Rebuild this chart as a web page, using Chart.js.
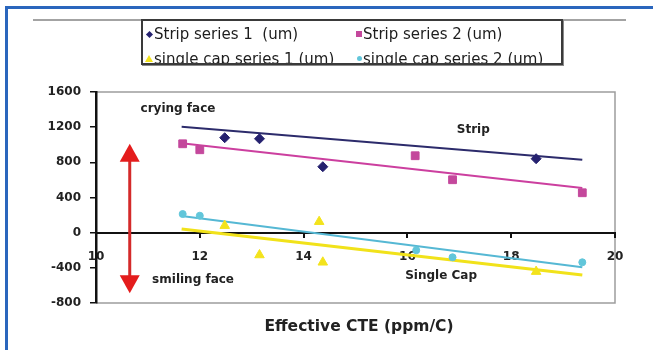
<!DOCTYPE html>
<html>
<head>
<meta charset="utf-8">
<script src="https://cdn.jsdelivr.net/npm/chart.js@4/dist/chart.umd.min.js"></script>
<style>
  html, body { margin: 0; padding: 0; background: #fff; overflow: hidden; }
  #wrap { position: relative; width: 653px; height: 350px; }
  canvas { position: absolute; left: 0; top: 0; }
  #frame { position: absolute; left: 5px; top: 6px; width: 720px; height: 420px;
           border-left: 3px solid #2a66bd; border-top: 3px solid #2a66bd; box-sizing: border-box; }
  #rule { position: absolute; left: 33px; top: 19px; width: 593px; height: 2px; background: #a3a3a3; }
  #legend { position: absolute; left: 141px; top: 19px; width: 422px; height: 46px;
            border: 2px solid #3a3a3a; box-shadow: 1px 1px 0 #8a8a8a; background: #fff;
            box-sizing: border-box; overflow: hidden;
            font-family: "DejaVu Sans", sans-serif; font-size: 15px; color: #1d1d1d; }
  .item { position: absolute; white-space: pre; line-height: 16px; }
  .mk { position: absolute; }
</style>
</head>
<body>
<div id="wrap">
  <canvas id="c" width="653" height="350"></canvas>
  <div id="frame"></div>
  <div id="rule"></div>
  <div id="legend"></div>
</div>
<script>
// Effective CTE (ppm/C) and measured warpage (um) per sample
const seriesLabels = ['Strip series 1  (um)', 'Strip series 2 (um)', 'single cap series 1 (um)', 'single cap series 2 (um)'];
const stripCte1 = [12.48, 13.15, 14.37, 18.48];
const stripWarp1 = [1080, 1068, 750, 841];
const stripCte2 = [11.67, 12.0, 16.15, 16.87, 19.37];
const stripWarp2 = [1011, 943, 875, 602, 454];
const capCte1 = [12.48, 13.15, 14.3, 14.37, 18.48];
const capWarp1 = [80, -254, 125, -337, -443];
const capCte2 = [11.67, 12.0, 16.17, 16.87, 19.37];
const capWarp2 = [212, 193, -200, -280, -337];

// Linear trend lines: warpage at the start and end of the CTE range
const trendCte = [11.65, 19.37];
const stripTrend1 = [1204, 829];
const stripTrend2 = [1018, 508];
const capTrend1 = [42, -481];
const capTrend2 = [190, -394];

// Axis ticks
const xTicks = [10, 12, 14, 16, 18, 20];
const yTicks = [-800, -400, 0, 400, 800, 1200, 1600];

// Crying / smiling face arrow (CTE position, warpage tips)
const arrowCte = 10.65;
const arrowWarp = [1010, -690];

const toPoints = (xs, ys) => xs.map((x, i) => ({ x: x, y: ys[i] }));

const colors = {
  strip1: '#25216f', strip1Line: '#2c2b6b',
  strip2: '#c4489c', strip2Line: '#cc3f9f',
  cap1: '#f3e31c', cap1Line: '#f1e21a',
  cap2: '#62c6da', cap2Line: '#55b8d4'
};

const pointSet = (label, xs, ys, color, style, radius) => ({
  type: 'scatter', label: label, data: toPoints(xs, ys),
  pointStyle: style, pointRadius: radius, pointHoverRadius: radius,
  backgroundColor: color, borderColor: color, borderWidth: 1,
  showLine: false, order: 0, inLegend: true
});
const trendSet = (ys, color, width) => ({
  type: 'line', data: toPoints(trendCte, ys),
  borderColor: color, borderWidth: width, pointRadius: 0,
  fill: false, tension: 0, order: 1, inLegend: false
});

const notes = [
  { text: 'crying face', x: 11.58, y: 1409 },
  { text: 'Strip', x: 17.27, y: 1170 },
  { text: 'smiling face', x: 11.87, y: -534 },
  { text: 'Single Cap', x: 16.65, y: -488 }
];

const notesPlugin = {
  id: 'notes',
  beforeDraw(chart) {
    const { ctx, chartArea: a } = chart;
    ctx.save();
    ctx.strokeStyle = '#9d9d9d';
    ctx.lineWidth = 1.5;
    ctx.beginPath();
    ctx.moveTo(a.left, a.top); ctx.lineTo(a.right, a.top);
    ctx.lineTo(a.right, a.bottom); ctx.lineTo(a.left, a.bottom);
    ctx.stroke();
    ctx.restore();
  },
  afterDraw(chart) {
    const { ctx } = chart;
    const xs = chart.scales.x, ys = chart.scales.y;
    ctx.save();
    // red double-headed arrow
    const ax = xs.getPixelForValue(arrowCte);
    const top = ys.getPixelForValue(arrowWarp[0]);
    const bot = ys.getPixelForValue(arrowWarp[1]);
    const head = 18, half = 10;
    ctx.strokeStyle = '#d42a2a';
    ctx.lineWidth = 3;
    ctx.beginPath();
    ctx.moveTo(ax, top + head - 1); ctx.lineTo(ax, bot - head + 1);
    ctx.stroke();
    ctx.fillStyle = '#e41c1c';
    ctx.beginPath();
    ctx.moveTo(ax, top); ctx.lineTo(ax + half, top + head); ctx.lineTo(ax - half, top + head);
    ctx.closePath(); ctx.fill();
    ctx.beginPath();
    ctx.moveTo(ax, bot); ctx.lineTo(ax + half, bot - head); ctx.lineTo(ax - half, bot - head);
    ctx.closePath(); ctx.fill();
    // annotations
    ctx.fillStyle = '#222';
    ctx.font = 'bold 12px "DejaVu Sans"';
    ctx.textAlign = 'center';
    ctx.textBaseline = 'middle';
    notes.forEach(n => ctx.fillText(n.text, xs.getPixelForValue(n.x), ys.getPixelForValue(n.y)));
    // x axis title
    ctx.font = 'bold 15.5px "DejaVu Sans"';
    ctx.fillText('Effective CTE (ppm/C)', 359, 327);
    ctx.restore();
  }
};

const tickFont = { family: 'DejaVu Sans', size: 12, weight: 'bold' };

const chart = new Chart(document.getElementById('c'), {
  data: {
    datasets: [
      pointSet(seriesLabels[0], stripCte1, stripWarp1, colors.strip1, 'rectRot', 5),
      pointSet(seriesLabels[1], stripCte2, stripWarp2, colors.strip2, 'rect', 5.5),
      pointSet(seriesLabels[2], capCte1, capWarp1, colors.cap1, 'triangle', 5.5),
      pointSet(seriesLabels[3], capCte2, capWarp2, colors.cap2, 'circle', 3.5),
      trendSet(stripTrend1, colors.strip1Line, 2),
      trendSet(stripTrend2, colors.strip2Line, 2),
      trendSet(capTrend1, colors.cap1Line, 3),
      trendSet(capTrend2, colors.cap2Line, 2)
    ]
  },
  options: {
    responsive: false,
    animation: false,
    events: [],
    layout: { padding: { left: 0, top: 92, right: 38, bottom: 47 } },
    plugins: { legend: { display: false }, tooltip: { enabled: false } },
    scales: {
      x: {
        type: 'linear',
        position: { y: 0 },
        min: xTicks[0], max: xTicks[xTicks.length - 1],
        afterBuildTicks: s => { s.ticks = xTicks.map(v => ({ value: v })); },
        ticks: { font: tickFont, color: '#222', padding: 13, callback: v => String(v) },
        grid: { drawOnChartArea: false, drawTicks: true, tickLength: 4, color: '#111', lineWidth: 2 },
        border: { display: true, color: '#111', width: 2 }
      },
      y: {
        type: 'linear',
        min: yTicks[0], max: yTicks[yTicks.length - 1],
        afterBuildTicks: s => { s.ticks = yTicks.map(v => ({ value: v })); },
        afterFit: s => { s.width = 96; },
        ticks: { font: tickFont, color: '#222', padding: 9, callback: v => String(v) },
        grid: { drawOnChartArea: false, drawTicks: true, tickLength: 6, color: '#111', lineWidth: 1.5 },
        border: { display: true, color: '#111', width: 2.5 }
      }
    }
  },
  plugins: [notesPlugin]
});

// Legend box built from the scatter datasets
(function buildLegend() {
  const box = document.getElementById('legend');
  const cols = [{ mk: 6, tx: 11 }, { mk: 216, tx: 220 }];
  const rows = [13, 37.5];
  chart.data.datasets.filter(d => d.inLegend).forEach((d, i) => {
    const col = cols[i % 2], rowY = rows[Math.floor(i / 2)];
    const mk = document.createElement('div');
    mk.className = 'mk';
    const c = d.backgroundColor;
    let w = 5, h = 5;
    if (d.pointStyle === 'rectRot') { w = h = 5; mk.style.background = c; mk.style.transform = 'rotate(45deg)'; }
    else if (d.pointStyle === 'rect') { w = h = 6; mk.style.background = c; }
    else if (d.pointStyle === 'circle') { w = h = 5; mk.style.background = c; mk.style.borderRadius = '50%'; }
    else if (d.pointStyle === 'triangle') {
      w = 8; h = 7;
      mk.style.width = '0'; mk.style.height = '0';
      mk.style.borderLeft = '4px solid transparent';
      mk.style.borderRight = '4px solid transparent';
      mk.style.borderBottom = '7px solid ' + c;
    }
    if (d.pointStyle !== 'triangle') { mk.style.width = w + 'px'; mk.style.height = h + 'px'; }
    mk.style.left = (col.mk - w / 2) + 'px';
    mk.style.top = (rowY - h / 2) + 'px';
    box.appendChild(mk);
    const tx = document.createElement('div');
    tx.className = 'item';
    tx.textContent = d.label;
    tx.style.left = col.tx + 'px';
    tx.style.top = (rowY - 8) + 'px';
    box.appendChild(tx);
  });
})();
</script>
</body>
</html>
